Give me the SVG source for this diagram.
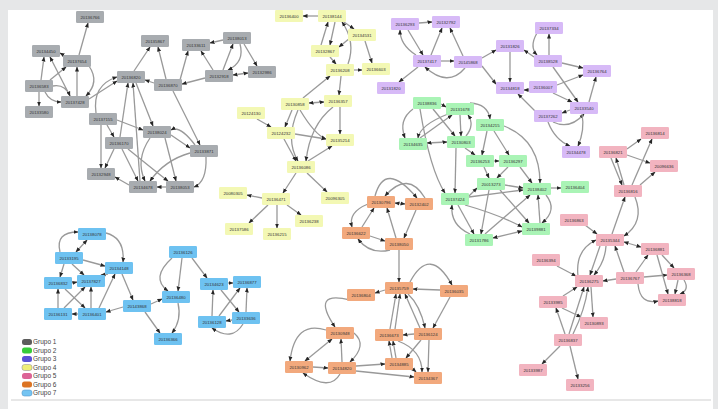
<svg xmlns="http://www.w3.org/2000/svg" width="718" height="409" viewBox="0 0 718 409">
<defs>
<style>
.e{fill:none;stroke:#999999;stroke-width:1.3;marker-end:url(#ah)}
.b{marker-start:url(#as)}
rect{rx:1.2;width:28px;height:12px}
.k1{fill:#a8acb0}.k2{fill:#aaf4b6}.k3{fill:#d7baf7}.k4{fill:#f3f8b4}.k5{fill:#f2b4c0}.k6{fill:#f2a97d}.k7{fill:#6ec2f1}
text{font-family:"Liberation Sans",Arial,sans-serif;font-size:4.3px;fill:#333;text-anchor:middle}
.lg text{font-size:6.5px;fill:#444;text-anchor:start}
.lg rect{width:10px;height:6px;rx:2.5}
</style>
<marker id="ah" viewBox="0 0 10 10" refX="9" refY="5" markerWidth="5" markerHeight="5" markerUnits="userSpaceOnUse" orient="auto"><path d="M0,1 L10,5 L0,9 z" fill="#262626"/></marker>
<marker id="as" viewBox="0 0 10 10" refX="9" refY="5" markerWidth="5" markerHeight="5" markerUnits="userSpaceOnUse" orient="auto-start-reverse"><path d="M0,1 L10,5 L0,9 z" fill="#262626"/></marker>
</defs>
<rect x="0" y="0" style="width:718px;height:409px;rx:0" fill="#e6e7e8"/>
<rect x="8" y="10" style="width:705px;height:399px;rx:0" fill="#ffffff"/>
<line x1="11" y1="400" x2="711" y2="400" stroke="#cfcfcf" stroke-width="1"/>

<g id="connectors">
<!-- group 1 -->
<path class="e" d="M79,55 L88,23"/>
<path class="e" d="M65,56 L60,53"/>
<path class="e" d="M41,80 L44,57"/>
<path class="e" d="M70,96 L50,57"/>
<path class="e" d="M77,96 L77,67"/>
<path class="e" d="M50,80 L66,67"/>
<path class="e" d="M89,66 Q100,82 86,96"/>
<path class="e" d="M45,92 Q50,102 61,102"/>
<path class="e" d="M53,86 Q65,84 70,96"/>
<path class="e" d="M39,92 L39,106"/>
<path class="e" d="M89,99 L117,81"/>
<path class="e" d="M96,113 Q92,85 117,77"/>
<path class="e" d="M134,71 L150,47"/>
<path class="e" d="M166,79 L158,47"/>
<path class="e" d="M154,83 L145,80"/>
<path class="e" d="M120,137 L128,83"/>
<path class="e" d="M140,181 L133,83"/>
<path class="e" d="M136,83 L153,126"/>
<path class="e" d="M107,125 L114,137"/>
<path class="e" d="M101,125 L101,168"/>
<path class="e" d="M114,149 L105,168"/>
<path class="e" d="M129,185 L115,177"/>
<path class="e" d="M122,149 L138,181"/>
<path class="e" d="M166,187 L157,187"/>
<path class="e" d="M206,157 Q207,182 194,187"/>
<path class="e" d="M173,91 L200,145"/>
<path class="e" d="M171,135 L190,148"/>
<path class="e" d="M190,153 Q165,160 150,181"/>
<path class="e" d="M150,138 Q135,160 145,181"/>
<path class="e" d="M180,80 L188,51"/>
<path class="e" d="M213,70 L201,51"/>
<path class="e" d="M223,70 L233,44"/>
<path class="e" d="M223,40 L210,43"/>
<path class="e" d="M244,44 L257,66"/>
<path class="e b" d="M233,75 L248,73"/>
<path class="e" d="M240,44 Q245,62 228,70"/>
<path class="e" d="M205,78 L182,84"/>
<path class="e" d="M195,145 Q180,125 171,130"/>
<path class="e" d="M165,138 L176,181"/>
<path class="e" d="M128,149 Q160,175 168,181"/>
<path class="e" d="M117,120 L143,130"/>
<!-- group 4 -->
<path class="e" d="M318,16 L303,16"/>
<path class="e" d="M321,45 L328,22"/>
<path class="e" d="M335,22 L330,45"/>
<path class="e" d="M344,22 L354,29"/>
<path class="e" d="M365,41 L372,63"/>
<path class="e" d="M354,70 L362,70"/>
<path class="e" d="M330,57 L336,64"/>
<path class="e" d="M350,38 L339,47"/>
<path class="e" d="M348,64 Q356,42 342,22"/>
<path class="e" d="M303,98 L330,76"/>
<path class="e" d="M341,76 L339,95"/>
<path class="e b" d="M309,103 L324,102"/>
<path class="e" d="M300,110 Q315,135 326,139"/>
<path class="e" d="M340,107 L340,134"/>
<path class="e" d="M257,119 L271,127"/>
<path class="e" d="M292,110 L285,127"/>
<path class="e" d="M295,134 L326,139"/>
<path class="e" d="M284,139 L296,161"/>
<path class="e" d="M308,161 L332,146"/>
<path class="e" d="M298,110 Q285,140 298,161"/>
<path class="e" d="M333,107 Q310,125 306,161"/>
<path class="e" d="M296,173 L283,193"/>
<path class="e" d="M307,173 L327,192"/>
<path class="e" d="M262,198 L247,195"/>
<path class="e" d="M268,205 L249,223"/>
<path class="e" d="M277,205 L277,228"/>
<path class="e" d="M287,205 L301,215"/>
<!-- group 3 -->
<path class="e" d="M419,23 L432,22"/>
<path class="e" d="M416,55 Q400,45 400,30"/>
<path class="e" d="M408,30 L423,55"/>
<path class="e" d="M431,55 L442,28"/>
<path class="e" d="M463,56 L450,28"/>
<path class="e" d="M441,61 L454,61"/>
<path class="e" d="M465,68 Q448,88 425,67"/>
<path class="e" d="M418,67 L399,82"/>
<path class="e" d="M482,58 L496,50"/>
<path class="e" d="M482,66 L496,84"/>
<path class="e" d="M510,52 L510,82"/>
<path class="e" d="M534,57 L524,50"/>
<path class="e" d="M549,55 L549,34"/>
<path class="e" d="M537,33 Q529,47 537,55"/>
<path class="e" d="M562,63 L583,68"/>
<path class="e" d="M553,67 L578,102"/>
<path class="e" d="M557,85 L583,75"/>
<path class="e" d="M553,93 L572,102"/>
<path class="e" d="M589,102 L596,77"/>
<path class="e" d="M570,110 L562,113"/>
<path class="e" d="M553,122 Q570,130 584,114"/>
<path class="e" d="M529,90 L524,90"/>
<path class="e" d="M535,111 L518,94"/>
<path class="e" d="M582,114 Q585,130 578,146"/>
<path class="e" d="M548,122 Q555,140 570,146"/>
<!-- group 2 -->
<path class="e" d="M441,104 L446,107"/>
<path class="e" d="M413,109 Q398,120 405,138"/>
<path class="e" d="M470,103 Q488,104 490,119"/>
<path class="e b" d="M427,143 L447,142"/>
<path class="e" d="M465,148 L475,155"/>
<path class="e" d="M494,161 L499,161"/>
<path class="e" d="M494,131 L509,155"/>
<path class="e" d="M487,131 L482,155"/>
<path class="e" d="M484,167 L489,178"/>
<path class="e" d="M508,167 L497,178"/>
<path class="e" d="M505,185 L523,188"/>
<path class="e" d="M551,188 L561,188"/>
<path class="e" d="M546,195 Q558,210 542,223"/>
<path class="e" d="M469,197 L523,190"/>
<path class="e" d="M458,205 L474,234"/>
<path class="e" d="M456,148 L455,193"/>
<path class="e b" d="M493,238 L522,231"/>
<path class="e" d="M489,190 L481,234"/>
<path class="e" d="M500,190 L529,223"/>
<path class="e" d="M520,167 L532,183"/>
<path class="e" d="M420,109 Q430,170 445,193"/>
<path class="e" d="M504,126 Q540,140 540,183"/>
<path class="e" d="M460,115 L461,136"/>
<path class="e" d="M433,109 L455,136"/>
<path class="e" d="M420,138 L452,115"/>
<path class="e" d="M466,136 Q475,125 468,115"/>
<path class="e" d="M465,205 Q500,215 522,227"/>
<path class="e" d="M470,234 Q450,225 452,205"/>
<path class="e" d="M469,196 L477,188"/>
<path class="e" d="M485,234 L530,195"/>
<path class="e" d="M448,114 Q420,125 418,138"/>
<path class="e" d="M540,223 L538,195"/>
<!-- group 6 -->
<path class="e b" d="M395,203 L405,204"/>
<path class="e" d="M375,196 Q385,160 417,198"/>
<path class="e" d="M425,198 Q408,170 385,196"/>
<path class="e" d="M362,227 L374,208"/>
<path class="e" d="M396,238 L387,208"/>
<path class="e" d="M416,210 L404,238"/>
<path class="e" d="M370,236 L385,241"/>
<path class="e" d="M390,250 Q370,255 358,239"/>
<path class="e" d="M368,204 Q348,212 352,227"/>
<path class="e" d="M399,250 L399,282"/>
<path class="e" d="M410,282 Q430,245 452,285"/>
<path class="e" d="M385,290 L375,293"/>
<path class="e" d="M440,290 L413,289"/>
<path class="e" d="M450,297 L433,328"/>
<path class="e" d="M408,294 Q420,305 425,328"/>
<path class="e" d="M420,328 L405,294"/>
<path class="e" d="M390,329 L396,294"/>
<path class="e" d="M395,329 L400,294"/>
<path class="e" d="M414,334 L403,335"/>
<path class="e" d="M392,358 L389,341"/>
<path class="e" d="M396,358 L393,341"/>
<path class="e" d="M421,340 L406,358"/>
<path class="e" d="M429,340 L428,372"/>
<path class="e" d="M412,368 L416,372"/>
<path class="e" d="M398,341 Q422,350 422,372"/>
<path class="e b" d="M305,361 L332,339"/>
<path class="e" d="M313,367 L328,368"/>
<path class="e" d="M342,362 L341,339"/>
<path class="e" d="M354,333 Q368,345 350,362"/>
<path class="e" d="M350,300 Q310,290 335,327"/>
<path class="e" d="M326,330 Q295,320 290,361"/>
<path class="e" d="M340,374 Q330,392 303,373"/>
<path class="e" d="M356,366 L385,364"/>
<path class="e" d="M356,371 L414,377"/>
<!-- group 5 -->
<path class="e" d="M627,149 L641,139"/>
<path class="e" d="M627,155 L650,163"/>
<path class="e" d="M624,185 L616,158"/>
<path class="e" d="M632,185 L652,139"/>
<path class="e" d="M640,185 L655,172"/>
<path class="e" d="M611,158 L622,185"/>
<path class="e" d="M612,234 L625,197"/>
<path class="e" d="M635,197 Q645,222 624,236"/>
<path class="e" d="M585,225 L597,234"/>
<path class="e b" d="M624,242 L641,247"/>
<path class="e" d="M557,266 L576,276"/>
<path class="e" d="M600,246 L590,275"/>
<path class="e" d="M606,246 Q605,262 594,275"/>
<path class="e" d="M616,279 L603,281"/>
<path class="e" d="M624,272 L615,246"/>
<path class="e" d="M636,272 L648,255"/>
<path class="e" d="M644,277 L667,275"/>
<path class="e" d="M678,280 L675,294"/>
<path class="e" d="M684,280 Q690,290 680,294"/>
<path class="e" d="M638,284 Q640,305 658,301"/>
<path class="e" d="M662,255 L674,268"/>
<path class="e" d="M657,255 L668,294"/>
<path class="e" d="M563,296 L577,287"/>
<path class="e" d="M562,308 L581,317"/>
<path class="e" d="M591,287 L593,317"/>
<path class="e" d="M569,334 L584,287"/>
<path class="e" d="M573,334 Q585,310 588,287"/>
<path class="e" d="M565,334 L556,308"/>
<path class="e" d="M560,346 L542,364"/>
<path class="e" d="M570,346 L578,379"/>
<path class="e" d="M578,276 Q575,250 596,240"/>
<!-- group 7 -->
<path class="e" d="M60,252 Q55,232 78,232"/>
<path class="e b" d="M76,252 L87,240"/>
<path class="e" d="M106,233 Q125,238 123,262"/>
<path class="e" d="M83,260 L105,266"/>
<path class="e" d="M108,274 L101,275"/>
<path class="e" d="M64,264 L60,277"/>
<path class="e" d="M72,264 L84,275"/>
<path class="e" d="M72,283 L77,282"/>
<path class="e" d="M58,308 L58,289"/>
<path class="e" d="M78,314 L72,314"/>
<path class="e" d="M91,308 L91,287"/>
<path class="e" d="M99,308 L115,274"/>
<path class="e" d="M65,289 L85,308"/>
<path class="e" d="M64,308 L85,287"/>
<path class="e" d="M123,307 L106,312"/>
<path class="e" d="M122,274 L133,300"/>
<path class="e" d="M151,304 L162,299"/>
<path class="e" d="M145,312 L160,333"/>
<path class="e" d="M178,303 Q182,320 172,333"/>
<path class="e" d="M172,258 Q150,278 168,291"/>
<path class="e" d="M182,258 L178,291"/>
<path class="e" d="M192,258 L207,278"/>
<path class="e" d="M228,283 L233,283"/>
<path class="e" d="M212,316 L213,290"/>
<path class="e" d="M246,312 L247,288"/>
<path class="e" d="M232,320 L226,321"/>
<path class="e" d="M219,316 L240,288"/>
<path class="e" d="M221,290 L239,312"/>
<path class="e" d="M243,324 Q232,342 212,328"/>
</g>

<!-- group 1 nodes -->
<g id="n1"><rect class="k1" x="76" y="11"/><text x="90" y="18.5">20136766</text></g>
<g id="n2"><rect class="k1" x="32" y="45"/><text x="46" y="52.5">20134450</text></g>
<g id="n3"><rect class="k1" x="63" y="55"/><text x="77" y="62.5">20137654</text></g>
<g id="n4"><rect class="k1" x="25" y="80"/><text x="39" y="87.5">20136583</text></g>
<g id="n5"><rect class="k1" x="61" y="96"/><text x="75" y="103.5">20137428</text></g>
<g id="n6"><rect class="k1" x="25" y="106"/><text x="39" y="113.5">20133580</text></g>
<g id="n7"><rect class="k1" x="141" y="35"/><text x="155" y="42.5">20135867</text></g>
<g id="n8"><rect class="k1" x="117" y="71"/><text x="131" y="78.5">20136820</text></g>
<g id="n9"><rect class="k1" x="154" y="79"/><text x="168" y="86.5">20136870</text></g>
<g id="n10"><rect class="k1" x="89" y="113"/><text x="103" y="120.5">20137155</text></g>
<g id="n11"><rect class="k1" x="143" y="126"/><text x="157" y="133.5">20138024</text></g>
<g id="n12"><rect class="k1" x="105" y="137"/><text x="119" y="144.5">20136170</text></g>
<g id="n13"><rect class="k1" x="87" y="168"/><text x="101" y="175.5">20132948</text></g>
<g id="n14"><rect class="k1" x="129" y="181"/><text x="143" y="188.5">20134678</text></g>
<g id="n15"><rect class="k1" x="166" y="181"/><text x="180" y="188.5">20138053</text></g>
<g id="n16"><rect class="k1" x="190" y="145"/><text x="204" y="152.5">20133871</text></g>
<g id="n17"><rect class="k1" x="182" y="39"/><text x="196" y="46.5">20133611</text></g>
<g id="n18"><rect class="k1" x="223" y="32"/><text x="237" y="39.5">20138013</text></g>
<g id="n19"><rect class="k1" x="205" y="70"/><text x="219" y="77.5">20132918</text></g>
<g id="n20"><rect class="k1" x="248" y="66"/><text x="262" y="73.5">20132986</text></g>
<!-- group 4 nodes -->
<g id="y1"><rect class="k4" x="275" y="10"/><text x="289" y="17.5">20136400</text></g>
<g id="y2"><rect class="k4" x="318" y="10"/><text x="332" y="17.5">20138144</text></g>
<g id="y3"><rect class="k4" x="348" y="29"/><text x="362" y="36.5">20134531</text></g>
<g id="y4"><rect class="k4" x="311" y="45"/><text x="325" y="52.5">20132867</text></g>
<g id="y5"><rect class="k4" x="326" y="64"/><text x="340" y="71.5">20136208</text></g>
<g id="y6"><rect class="k4" x="362" y="63"/><text x="376" y="70.5">20136603</text></g>
<g id="y7"><rect class="k4" x="281" y="98"/><text x="295" y="105.5">20130858</text></g>
<g id="y8"><rect class="k4" x="324" y="95"/><text x="338" y="102.5">20136357</text></g>
<g id="y9"><rect class="k4" x="237" y="107"/><text x="251" y="114.5">20124130</text></g>
<g id="y10"><rect class="k4" x="267" y="127"/><text x="281" y="134.5">20124232</text></g>
<g id="y11"><rect class="k4" x="326" y="134"/><text x="340" y="141.5">20135214</text></g>
<g id="y12"><rect class="k4" x="287" y="161"/><text x="301" y="168.5">20136086</text></g>
<g id="y13"><rect class="k4" x="219" y="187"/><text x="233" y="194.5">20080305</text></g>
<g id="y14"><rect class="k4" x="262" y="193"/><text x="276" y="200.5">20136471</text></g>
<g id="y15"><rect class="k4" x="321" y="192"/><text x="335" y="199.5">20096305</text></g>
<g id="y16"><rect class="k4" x="225" y="223"/><text x="239" y="230.5">20137586</text></g>
<g id="y17"><rect class="k4" x="295" y="215"/><text x="309" y="222.5">20136238</text></g>
<g id="y18"><rect class="k4" x="263" y="228"/><text x="277" y="235.5">20136215</text></g>
<!-- group 3 nodes -->
<g id="p1"><rect class="k3" x="391" y="18"/><text x="405" y="25.5">20136293</text></g>
<g id="p2"><rect class="k3" x="432" y="16"/><text x="446" y="23.5">20132792</text></g>
<g id="p3"><rect class="k3" x="413" y="55"/><text x="427" y="62.5">20137417</text></g>
<g id="p4"><rect class="k3" x="454" y="56"/><text x="468" y="63.5">20145868</text></g>
<g id="p5"><rect class="k3" x="377" y="82"/><text x="391" y="89.5">20131820</text></g>
<g id="p6"><rect class="k3" x="496" y="40"/><text x="510" y="47.5">20131826</text></g>
<g id="p7"><rect class="k3" x="496" y="82"/><text x="510" y="89.5">20134818</text></g>
<g id="p8"><rect class="k3" x="535" y="22"/><text x="549" y="29.5">20137334</text></g>
<g id="p9"><rect class="k3" x="534" y="55"/><text x="548" y="62.5">20138528</text></g>
<g id="p10"><rect class="k3" x="583" y="65"/><text x="597" y="72.5">20136764</text></g>
<g id="p11"><rect class="k3" x="529" y="81"/><text x="543" y="88.5">20136007</text></g>
<g id="p12"><rect class="k3" x="570" y="102"/><text x="584" y="109.5">20133540</text></g>
<g id="p13"><rect class="k3" x="534" y="110"/><text x="548" y="117.5">20137262</text></g>
<g id="p14"><rect class="k3" x="562" y="146"/><text x="576" y="153.5">20134478</text></g>
<!-- group 2 nodes -->
<g id="q1"><rect class="k2" x="413" y="97"/><text x="427" y="104.5">20138836</text></g>
<g id="q2"><rect class="k2" x="446" y="103"/><text x="460" y="110.5">20131678</text></g>
<g id="q3"><rect class="k2" x="476" y="119"/><text x="490" y="126.5">20134215</text></g>
<g id="q4"><rect class="k2" x="399" y="138"/><text x="413" y="145.5">20134635</text></g>
<g id="q5"><rect class="k2" x="447" y="136"/><text x="461" y="143.5">20130803</text></g>
<g id="q6"><rect class="k2" x="466" y="155"/><text x="480" y="162.5">20136253</text></g>
<g id="q7"><rect class="k2" x="499" y="155"/><text x="513" y="162.5">20136297</text></g>
<g id="q8"><rect class="k2" x="477" y="178"/><text x="491" y="185.5">20013273</text></g>
<g id="q9"><rect class="k2" x="523" y="183"/><text x="537" y="190.5">20138402</text></g>
<g id="q10"><rect class="k2" x="441" y="193"/><text x="455" y="200.5">20137424</text></g>
<g id="q11"><rect class="k2" x="522" y="223"/><text x="536" y="230.5">20139881</text></g>
<g id="q12"><rect class="k2" x="465" y="234"/><text x="479" y="241.5">20131786</text></g>
<g id="q13"><rect class="k2" x="561" y="181"/><text x="575" y="188.5">20136404</text></g>
<!-- group 6 nodes -->
<g id="o1"><rect class="k6" x="367" y="196"/><text x="381" y="203.5">20130796</text></g>
<g id="o2"><rect class="k6" x="405" y="198"/><text x="419" y="205.5">20132402</text></g>
<g id="o3"><rect class="k6" x="342" y="227"/><text x="356" y="234.5">20136622</text></g>
<g id="o4"><rect class="k6" x="385" y="238"/><text x="399" y="245.5">20138050</text></g>
<g id="o5"><rect class="k6" x="385" y="282"/><text x="399" y="289.5">20135759</text></g>
<g id="o6"><rect class="k6" x="347" y="289"/><text x="361" y="296.5">20136804</text></g>
<g id="o7"><rect class="k6" x="440" y="285"/><text x="454" y="292.5">20136035</text></g>
<g id="o8"><rect class="k6" x="375" y="329"/><text x="389" y="336.5">20136673</text></g>
<g id="o9"><rect class="k6" x="414" y="328"/><text x="428" y="335.5">20136124</text></g>
<g id="o10"><rect class="k6" x="326" y="327"/><text x="340" y="334.5">20130948</text></g>
<g id="o11"><rect class="k6" x="385" y="358"/><text x="399" y="365.5">20134885</text></g>
<g id="o12"><rect class="k6" x="414" y="372"/><text x="428" y="379.5">20134367</text></g>
<g id="o13"><rect class="k6" x="285" y="361"/><text x="299" y="368.5">20130962</text></g>
<g id="o14"><rect class="k6" x="328" y="362"/><text x="342" y="369.5">20134820</text></g>
<!-- group 5 nodes -->
<g id="r1"><rect class="k5" x="641" y="127"/><text x="655" y="134.5">20136814</text></g>
<g id="r2"><rect class="k5" x="599" y="146"/><text x="613" y="153.5">20136821</text></g>
<g id="r3"><rect class="k5" x="650" y="160"/><text x="664" y="167.5">20096636</text></g>
<g id="r4"><rect class="k5" x="614" y="185"/><text x="628" y="192.5">20136816</text></g>
<g id="r5"><rect class="k5" x="560" y="214"/><text x="574" y="221.5">20136863</text></g>
<g id="r6"><rect class="k5" x="596" y="234"/><text x="610" y="241.5">20135344</text></g>
<g id="r7"><rect class="k5" x="641" y="243"/><text x="655" y="250.5">20136881</text></g>
<g id="r8"><rect class="k5" x="532" y="254"/><text x="546" y="261.5">20136394</text></g>
<g id="r9"><rect class="k5" x="575" y="275"/><text x="589" y="282.5">20136275</text></g>
<g id="r10"><rect class="k5" x="616" y="272"/><text x="630" y="279.5">20136767</text></g>
<g id="r11"><rect class="k5" x="667" y="268"/><text x="681" y="275.5">20136368</text></g>
<g id="r12"><rect class="k5" x="658" y="294"/><text x="672" y="301.5">20138818</text></g>
<g id="r13"><rect class="k5" x="539" y="296"/><text x="553" y="303.5">20133985</text></g>
<g id="r14"><rect class="k5" x="580" y="317"/><text x="594" y="324.5">20130893</text></g>
<g id="r15"><rect class="k5" x="554" y="334"/><text x="568" y="341.5">20136837</text></g>
<g id="r16"><rect class="k5" x="519" y="364"/><text x="533" y="371.5">20133987</text></g>
<g id="r17"><rect class="k5" x="566" y="379"/><text x="580" y="386.5">20133256</text></g>
<!-- group 7 nodes -->
<g id="b1"><rect class="k7" x="78" y="228"/><text x="92" y="235.5">20138078</text></g>
<g id="b2"><rect class="k7" x="55" y="252"/><text x="69" y="259.5">20133195</text></g>
<g id="b3"><rect class="k7" x="105" y="262"/><text x="119" y="269.5">20134148</text></g>
<g id="b4"><rect class="k7" x="44" y="277"/><text x="58" y="284.5">20136832</text></g>
<g id="b5"><rect class="k7" x="77" y="275"/><text x="91" y="282.5">20137827</text></g>
<g id="b6"><rect class="k7" x="44" y="308"/><text x="58" y="315.5">20136131</text></g>
<g id="b7"><rect class="k7" x="78" y="308"/><text x="92" y="315.5">20136401</text></g>
<g id="b8"><rect class="k7" x="123" y="300"/><text x="137" y="307.5">20143868</text></g>
<g id="b9"><rect class="k7" x="169" y="246"/><text x="183" y="253.5">20136126</text></g>
<g id="b10"><rect class="k7" x="162" y="291"/><text x="176" y="298.5">20136480</text></g>
<g id="b11"><rect class="k7" x="154" y="333"/><text x="168" y="340.5">20136366</text></g>
<g id="b12"><rect class="k7" x="200" y="278"/><text x="214" y="285.5">20134623</text></g>
<g id="b13"><rect class="k7" x="233" y="276"/><text x="247" y="283.5">20136877</text></g>
<g id="b14"><rect class="k7" x="198" y="316"/><text x="212" y="323.5">20136128</text></g>
<g id="b15"><rect class="k7" x="232" y="312"/><text x="246" y="319.5">20133636</text></g>

<g id="legend" class="lg">
<rect x="22" y="339" fill="#5c5c5c"/><text x="33" y="344">Grupo 1</text>
<rect x="22" y="347.5" fill="#36cc3a"/><text x="33" y="352.5">Grupo 2</text>
<rect x="22" y="356" fill="#5a52d6"/><text x="33" y="361">Grupo 3</text>
<rect x="22" y="364.5" fill="#eeee78" stroke="#999" stroke-width="0.6"/><text x="33" y="369.5">Grupo 4</text>
<rect x="22" y="373" fill="#dc6496"/><text x="33" y="378">Grupo 5</text>
<rect x="22" y="381.5" fill="#dc7424"/><text x="33" y="386.5">Grupo 6</text>
<rect x="22" y="390" fill="#74c4f2" stroke="#5599cc" stroke-width="0.6"/><text x="33" y="395">Grupo 7</text>
</g>
</svg>
